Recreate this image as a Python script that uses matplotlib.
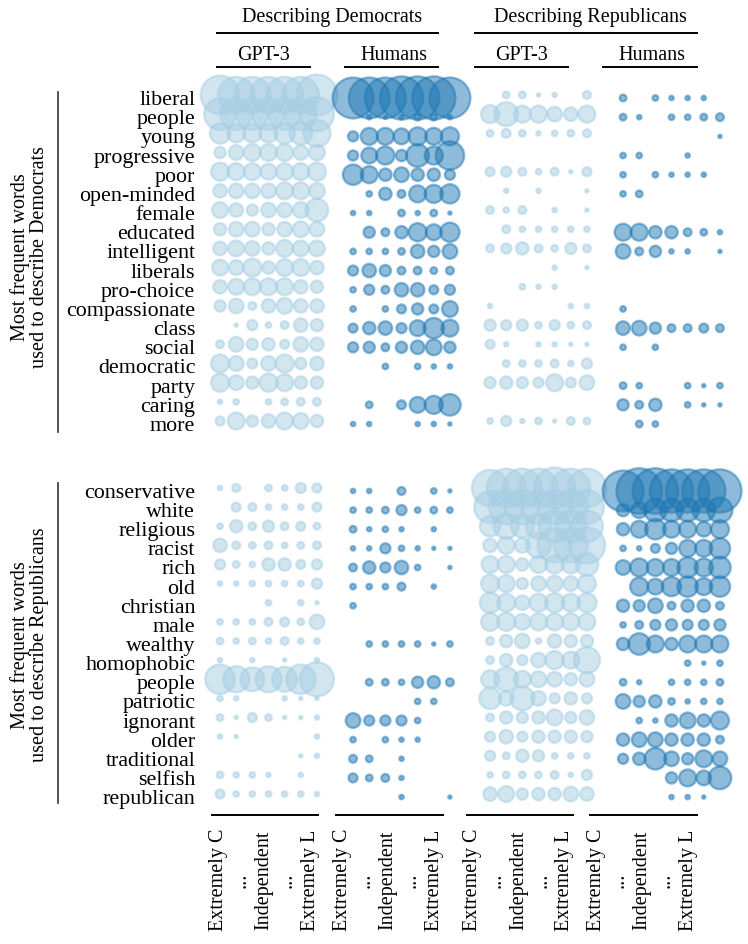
import matplotlib
matplotlib.use("Agg")
import matplotlib.pyplot as plt
import numpy as np
from matplotlib.lines import Line2D

plt.rcParams['font.family'] = ['Liberation Serif', 'DejaVu Serif']
plt.rcParams['font.size'] = 14.5

W, H = 748, 944

dem_words = ["liberal", "people", "young", "progressive", "poor", "open-minded",
             "female", "educated", "intelligent", "liberals", "pro-choice",
             "compassionate", "class", "social", "democratic", "party", "caring", "more"]
rep_words = ["conservative", "white", "religious", "racist", "rich", "old", "christian",
             "male", "wealthy", "homophobic", "people", "patriotic", "ignorant", "older",
             "traditional", "selfish", "republican"]
leaning_labels = ["Extremely C", "...", "Independent", "...", "Extremely L"]

# word frequency score per leaning group (Extremely C ... Extremely L), 0 = word not used
# words used for Democrats
top_dem_gpt3 = [
    [36, 34, 34, 34, 34, 34, 38], [30, 30, 30, 30, 30, 30, 32], [20, 18, 18, 18, 20, 22, 26],
    [12, 15, 17, 17, 17, 15, 16], [18, 17, 17, 16, 17, 17, 18], [14, 15, 15, 15, 17, 17, 16],
    [16, 14, 12, 15, 15, 16, 22], [13, 15, 15, 13, 15, 16, 15], [14, 16, 15, 13, 17, 16, 16],
    [16, 15, 18, 13, 17, 17, 14], [14, 16, 17, 17, 17, 14, 13], [12, 15, 9, 14, 16, 14, 14],
    [0, 5, 11, 7, 9, 14, 13], [9, 15, 12, 13, 10, 15, 14], [18, 15, 11, 15, 18, 12, 14],
    [18, 15, 13, 18, 17, 13, 13], [6, 7, 0, 7, 8, 9, 9], [10, 17, 12, 14, 17, 16, 13]]
top_dem_human = [
    [38, 38, 38, 40, 40, 40, 38], [0, 6, 5, 6, 8, 8, 6], [11, 17, 17, 16, 18, 17, 18],
    [11, 16, 18, 12, 22, 18, 27], [20, 17, 13, 15, 13, 13, 11], [0, 7, 13, 9, 17, 18, 19],
    [6, 6, 0, 8, 6, 8, 5], [0, 12, 9, 13, 18, 16, 19], [7, 7, 7, 8, 14, 12, 15],
    [11, 14, 12, 9, 9, 8, 9], [7, 11, 9, 14, 14, 10, 11], [7, 0, 7, 10, 12, 10, 16],
    [10, 13, 14, 11, 16, 20, 17], [11, 12, 9, 12, 14, 16, 12], [0, 0, 7, 0, 7, 6, 6],
    [0, 0, 0, 0, 0, 0, 0], [0, 8, 0, 10, 16, 18, 21], [6, 6, 0, 0, 6, 6, 5]]
top_rep_gpt3 = [
    [0, 8, 8, 5, 6, 0, 9], [18, 23, 17, 17, 15, 14, 17], [8, 10, 8, 6, 7, 8, 9],
    [0, 0, 0, 0, 0, 0, 0], [10, 11, 9, 7, 9, 5, 10], [0, 6, 0, 6, 0, 0, 5],
    [9, 7, 9, 0, 6, 0, 5], [0, 9, 7, 7, 7, 7, 7], [9, 11, 13, 9, 8, 12, 9],
    [0, 0, 0, 0, 6, 0, 5], [0, 0, 7, 6, 6, 0, 0], [6, 0, 0, 0, 0, 6, 6],
    [12, 11, 12, 8, 11, 8, 9], [10, 6, 0, 6, 6, 5, 5], [0, 8, 8, 8, 9, 7, 11],
    [12, 13, 12, 11, 17, 11, 15], [0, 0, 0, 0, 0, 0, 0], [7, 11, 6, 8, 5, 9, 8]]
top_rep_human = [
    [8, 0, 7, 6, 6, 6, 0], [8, 6, 0, 7, 7, 8, 9], [0, 0, 0, 0, 0, 0, 5],
    [7, 7, 0, 0, 6, 0, 0], [7, 0, 7, 6, 6, 6, 0], [7, 8, 0, 0, 0, 0, 0],
    [0, 0, 0, 0, 0, 0, 0], [17, 17, 13, 13, 9, 8, 6], [15, 9, 12, 6, 6, 0, 5],
    [0, 0, 0, 0, 0, 0, 0], [0, 0, 0, 0, 0, 0, 0], [7, 0, 0, 0, 0, 0, 0],
    [14, 15, 12, 9, 9, 10, 9], [7, 0, 7, 0, 0, 0, 0], [0, 0, 0, 0, 0, 0, 0],
    [8, 7, 0, 0, 7, 5, 7], [12, 9, 13, 0, 7, 5, 5], [0, 8, 7, 0, 0, 0, 0]]

# words used for Republicans
bot_dem_gpt3 = [
    [6, 9, 0, 8, 7, 11, 10], [0, 10, 9, 7, 7, 7, 10], [7, 13, 9, 12, 9, 10, 8],
    [14, 9, 8, 9, 7, 8, 9], [11, 8, 7, 13, 13, 10, 11], [6, 6, 7, 7, 7, 7, 11],
    [0, 0, 0, 7, 0, 7, 5], [7, 7, 7, 9, 10, 8, 15], [8, 7, 8, 7, 9, 7, 7],
    [6, 0, 6, 0, 5, 0, 6], [28, 25, 23, 25, 24, 28, 32], [7, 6, 0, 0, 6, 5, 5],
    [8, 5, 10, 8, 5, 5, 6], [6, 5, 0, 0, 0, 0, 6], [0, 0, 0, 0, 0, 5, 6],
    [8, 7, 7, 6, 0, 6, 0], [10, 7, 7, 7, 7, 7, 6]]
bot_dem_human = [
    [6, 6, 0, 9, 0, 7, 5], [7, 7, 8, 11, 7, 8, 7], [8, 6, 7, 6, 0, 6, 0],
    [6, 6, 11, 7, 6, 5, 5], [9, 13, 11, 14, 7, 0, 5], [7, 7, 7, 9, 0, 6, 0],
    [7, 0, 0, 0, 0, 0, 0], [0, 0, 0, 0, 0, 0, 0], [0, 7, 7, 7, 7, 5, 7],
    [0, 0, 0, 0, 0, 0, 0], [0, 8, 8, 7, 12, 13, 9], [0, 0, 0, 0, 7, 7, 0],
    [15, 11, 11, 11, 7, 0, 0], [7, 0, 7, 6, 6, 0, 0], [9, 8, 0, 6, 0, 0, 0],
    [10, 8, 9, 6, 0, 0, 0], [0, 0, 0, 6, 0, 0, 5]]
bot_rep_gpt3 = [
    [34, 36, 36, 36, 38, 36, 36], [30, 32, 32, 32, 32, 32, 32], [20, 24, 22, 24, 30, 30, 30],
    [14, 17, 15, 24, 32, 32, 34], [17, 17, 13, 17, 18, 18, 22], [18, 17, 12, 15, 16, 15, 18],
    [20, 18, 15, 18, 19, 18, 19], [18, 18, 16, 17, 17, 17, 17], [9, 13, 15, 7, 14, 13, 13],
    [9, 13, 11, 15, 18, 17, 25], [18, 23, 17, 16, 15, 13, 15], [21, 15, 23, 15, 11, 13, 11],
    [9, 13, 12, 13, 16, 12, 15], [11, 14, 11, 13, 13, 13, 12], [11, 8, 13, 12, 7, 7, 7],
    [7, 8, 8, 8, 9, 6, 11], [14, 16, 12, 13, 13, 15, 14]]
bot_rep_human = [
    [38, 42, 42, 40, 40, 40, 40], [13, 16, 22, 22, 22, 22, 24], [13, 17, 20, 17, 17, 15, 18],
    [7, 6, 10, 12, 17, 17, 20], [15, 18, 17, 17, 20, 18, 21], [0, 18, 16, 19, 20, 17, 20],
    [13, 12, 15, 9, 13, 13, 9], [7, 9, 11, 12, 11, 11, 12], [13, 21, 17, 13, 17, 17, 17],
    [0, 0, 0, 0, 7, 5, 7], [8, 6, 0, 7, 7, 7, 8], [15, 12, 13, 8, 6, 7, 7],
    [0, 7, 6, 13, 16, 13, 18], [13, 15, 15, 13, 13, 13, 9], [11, 13, 21, 15, 12, 17, 15],
    [0, 0, 0, 12, 17, 15, 22], [0, 0, 0, 6, 6, 5, 0]]

gpt3_color = "#a6cee3"
human_color = "#1f78b4"
LW = 1.7
SCALE = 0.82  # score -> outer diameter in points

fig = plt.figure(figsize=(W / 100, H / 100), dpi=100)


def px_axes(left, top, width, height):
    return fig.add_axes([left / W, 1 - (top + height) / H, width / W, height / H])


def draw_panel(ax, data, color):
    data = np.array(data)
    rows, cols = np.nonzero(data)
    diam = data[rows, cols] * SCALE
    ax.scatter(cols, rows, s=np.clip(diam - LW, 1.2, None) ** 2, facecolor=color,
               edgecolor=color, alpha=0.5, linewidths=LW, clip_on=False)
    ax.set_xlim(-0.5, 6.5)
    ax.set_ylim(len(data) - 0.5, -0.5)
    ax.set_frame_on(False)
    ax.set_xticks([])
    ax.set_yticks([])


panel_left = [212, 345, 482, 615]
panel_w = 113
groups = [(88.4, 345.2, dem_words, [top_dem_gpt3, top_dem_human, top_rep_gpt3, top_rep_human]),
          (481.4, 325.2, rep_words, [bot_dem_gpt3, bot_dem_human, bot_rep_gpt3, bot_rep_human])]
colors = [gpt3_color, human_color, gpt3_color, human_color]

for top, height, words, panels in groups:
    for i, (left, data) in enumerate(zip(panel_left, panels)):
        # GPT-3 panels sit a few pixels higher than the human ones in the original
        shift = -3 if i in (0, 2) else 0
        ax = px_axes(left, top + shift, panel_w, height)
        draw_panel(ax, data, colors[i])
        if i == 0:
            ax.set_yticks(range(len(words)))
            ax.set_yticklabels(words, fontsize=15.8)
            ax.tick_params(axis='y', length=0, pad=12)
            for lab in ax.get_yticklabels():
                lab.set_transform(lab.get_transform() + matplotlib.transforms.ScaledTranslation(0, -3 / 100, fig.dpi_scale_trans))


def fig_line(x0, x1, y0, y1, lw=1.4, color="black"):
    fig.add_artist(Line2D([x0 / W, x1 / W], [1 - y0 / H, 1 - y1 / H],
                          transform=fig.transFigure, lw=lw, color=color))


def fig_text(x, y, s, **kw):
    fig.text(x / W, 1 - y / H, s, **kw)


# column headers
fig_text(332, 22, "Describing Democrats", ha="center", va="baseline")
fig_text(590, 22, "Describing Republicans", ha="center", va="baseline")
fig_line(217, 438, 33, 33)
fig_line(475, 697, 33, 33)
for x, s in zip([263, 394, 521, 652], ["GPT-3", "Humans", "GPT-3", "Humans"]):
    fig_text(x, 60, s, ha="center", va="baseline")
for x0, x1 in [(217, 310), (345, 438), (475, 568), (603, 697)]:
    fig_line(x0, x1, 67, 67)

# bottom leaning axis
for x0, x1 in [(212, 318), (336, 443), (467, 573), (590, 697)]:
    fig_line(x0, x1, 815, 815)
for start in [218, 342, 473, 596]:
    for j, lab in enumerate(leaning_labels):
        fig_text(start + 23 * j, 880, lab, rotation=90, ha="center", va="center")

# row group labels
fig_line(58, 58, 92, 432, lw=1.2, color="#333333")
fig_line(58, 58, 483, 803, lw=1.2, color="#333333")
fig_text(30, 257, "Most frequent words\nused to describe Democrats", rotation=90,
         ha="center", va="center", multialignment="center", linespacing=1.0)
fig_text(30, 645, "Most frequent words\nused to describe Republicans", rotation=90,
         ha="center", va="center", multialignment="center", linespacing=1.0)

fig.savefig("out.png", dpi=100)
